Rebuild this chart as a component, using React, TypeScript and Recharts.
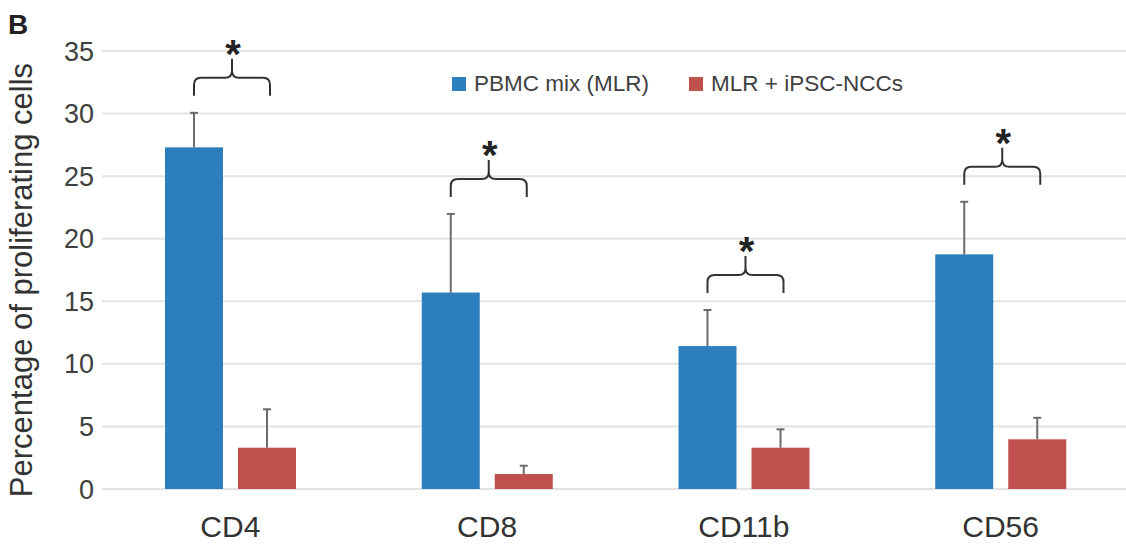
import { BarChart, Bar, XAxis, YAxis, CartesianGrid } from 'recharts';

const categories = ['CD4', 'CD8', 'CD11b', 'CD56'];
const mlrMean = [27.3, 15.7, 11.42, 18.75];
const mlrErr = [2.76, 6.28, 2.88, 4.2];
const nccMean = [3.3, 1.2, 3.3, 3.97];
const nccErr = [3.07, 0.66, 1.47, 1.72];
const significant = [true, true, true, true];
const yTicks = [0, 5, 10, 15, 20, 25, 30, 35];

const seriesNames = ['PBMC mix (MLR)', 'MLR + iPSC-NCCs'];
const BLUE = '#2C7FBC';
const RED = '#C0504E';
const BAR_SIZE = 58;
const BAR_GAP = 15;
const FONT = '"Liberation Sans", Arial, Helvetica, sans-serif';

const data = categories.map((name, i) => ({
  name,
  mlr: mlrMean[i],
  mlrErr: mlrErr[i],
  ncc: nccMean[i],
  nccErr: nccErr[i],
  sig: significant[i]
}));

// curly brace above a pair of bars, with the asterisk on top
const Brace = ({ left, right, bottom }: { left: number; right: number; bottom: number }) => {
  const h = bottom - 18;
  const tip = h - 19;
  const c = (left + right) / 2;
  const r = 7;
  const d = [
    `M${left},${bottom} L${left},${h + r} Q${left},${h} ${left + r},${h} L${c - r},${h} Q${c},${h} ${c},${h - r} L${c},${tip}`,
    `M${right},${bottom} L${right},${h + r} Q${right},${h} ${right - r},${h} L${c + r},${h} Q${c},${h} ${c},${h - r}`
  ].join(' ');
  return (
    <g>
      <path d={d} fill="none" stroke="#333" strokeWidth={2} />
      <text x={c + 1} y={tip + 9} textAnchor="middle" fontSize={40} fontWeight="bold" fill="#222" style={{ fontFamily: FONT }}>*</text>
    </g>
  );
};

const makeShape = (valKey: 'mlr' | 'ncc', errKey: 'mlrErr' | 'nccErr', withBrace: boolean) => (props: any) => {
  const { x, y, width, height, fill, payload } = props;
  const val = payload[valKey];
  const pxPerUnit = val ? height / val : 0;
  const errTop = y - payload[errKey] * pxPerUnit;
  const cx = x + width / 2;
  return (
    <g>
      <rect x={x} y={y} width={width} height={height} fill={fill} />
      <line x1={cx} y1={y} x2={cx} y2={errTop} stroke="#6b6b6b" strokeWidth={2} />
      <line x1={cx - 4} y1={errTop} x2={cx + 4} y2={errTop} stroke="#6b6b6b" strokeWidth={2} />
      {withBrace && payload.sig && (
        <Brace left={cx} right={cx + BAR_SIZE + BAR_GAP + 3} bottom={errTop - 17} />
      )}
    </g>
  );
};

export default function App() {
  return (
    <div style={{ position: 'absolute', left: 0, top: 0, width: 1126, height: 544, overflow: 'hidden', background: '#fff', fontFamily: FONT }}>
      <BarChart
        width={1130}
        height={544}
        data={data}
        margin={{ top: 51, right: 1, left: 0, bottom: 0 }}
        barGap={BAR_GAP}
        barSize={BAR_SIZE}
      >
        <CartesianGrid vertical={false} stroke="#e3e3e3" strokeWidth={2} />
        <XAxis
          dataKey="name"
          height={55}
          axisLine={false}
          tickLine={false}
          interval={0}
          tickMargin={21}
          tick={{ fontSize: 30, fill: '#333' }}
        />
        <YAxis
          width={102}
          domain={[0, 35]}
          ticks={yTicks}
          axisLine={false}
          tickLine={false}
          tick={{ fontSize: 27, fill: '#404040' }}
          label={{
            value: 'Percentage of proliferating cells',
            angle: -90,
            position: 'center',
            dx: -30,
            dy: 10,
            style: { fontSize: 31, fill: '#333', textAnchor: 'middle' }
          }}
        />
        <Bar dataKey="mlr" name={seriesNames[0]} fill={BLUE} isAnimationActive={false} shape={makeShape('mlr', 'mlrErr', true)} />
        <Bar dataKey="ncc" name={seriesNames[1]} fill={RED} isAnimationActive={false} shape={makeShape('ncc', 'nccErr', false)} />
      </BarChart>

      <div style={{ position: 'absolute', left: 8, top: 11, fontSize: 28, fontWeight: 'bold', lineHeight: 1, color: '#222' }}>B</div>

      <div style={{ position: 'absolute', left: 452, top: 73, display: 'flex', alignItems: 'flex-start', fontSize: 22.5, lineHeight: 1, color: '#404040' }}>
        {seriesNames.map((n, i) => (
          <div key={n} style={{ display: 'flex', alignItems: 'flex-start', marginLeft: i === 0 ? 0 : 40 }}>
            <div style={{ width: 14, height: 14, marginTop: 4, background: i === 0 ? BLUE : RED }} />
            <span style={{ marginLeft: 8, whiteSpace: 'nowrap' }}>{n}</span>
          </div>
        ))}
      </div>
    </div>
  );
}
